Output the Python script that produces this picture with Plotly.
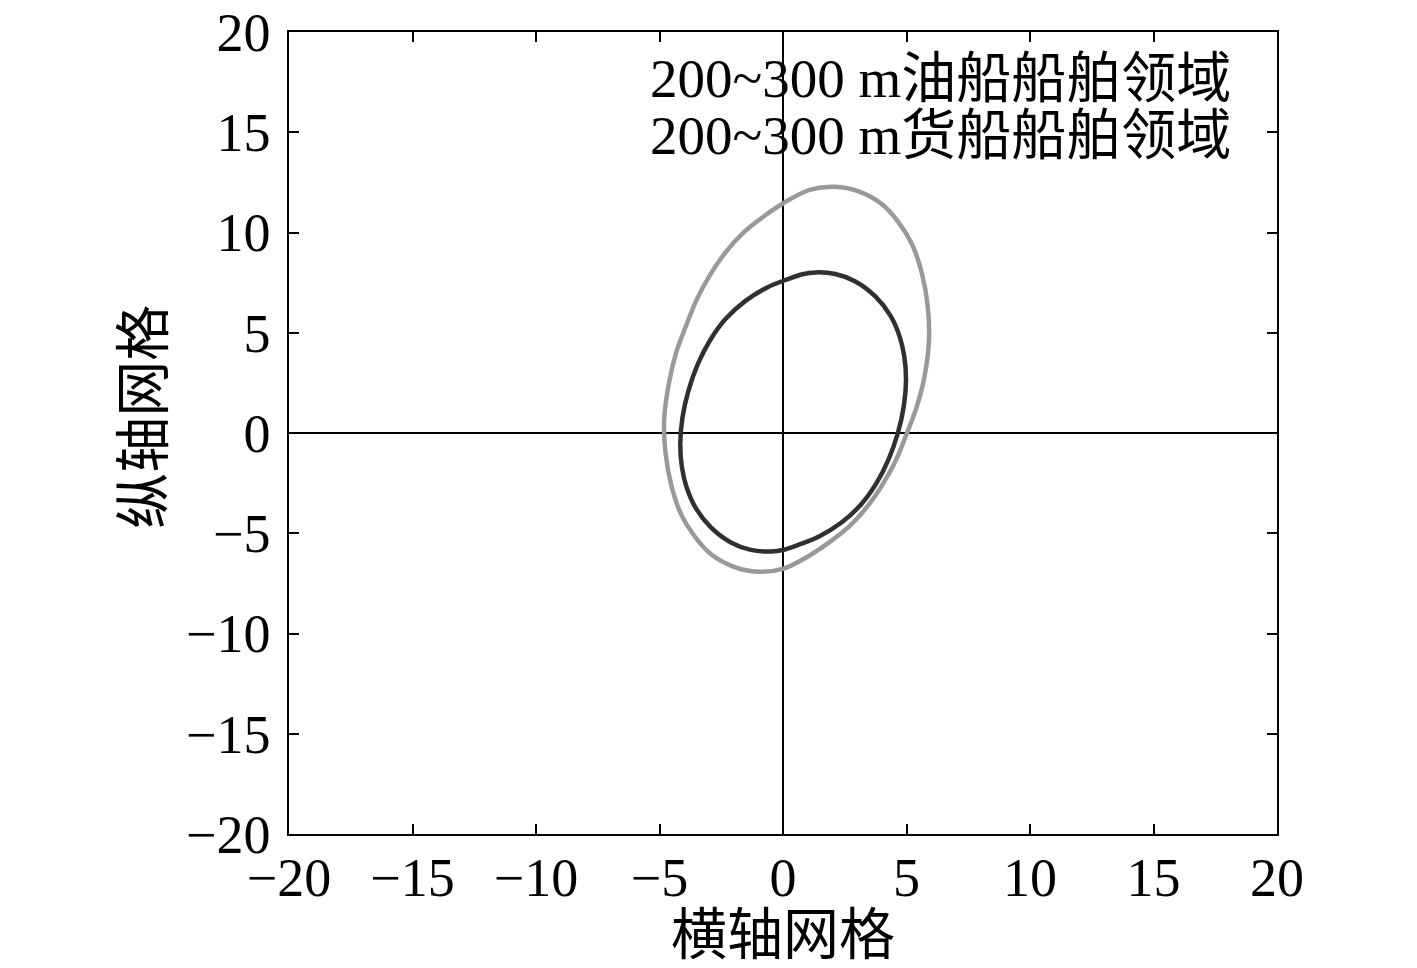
import plotly.graph_objects as go

# 200~300 m 油船船舶领域 (outer, gray), clockwise from the top
tanker_x = [2.11, 3.06, 4.01, 4.68, 5.22, 5.62, 5.86, 5.91, 5.73, 5.42, 5.02, 4.58, 4.07, 3.42, 2.68,
            1.83, 0.78, 0.00, -1.01, -1.96, -2.91, -3.58, -4.12, -4.52, -4.76, -4.81, -4.61, -4.32,
            -3.92, -3.48, -2.97, -2.32, -1.58, -0.73, 0.32, 1.11, 2.11]
tanker_y = [12.28, 12.05, 11.41, 10.51, 9.43, 7.98, 6.31, 4.65, 2.82, 1.33, 0.00, -1.33, -2.49, -3.66, -4.66,
            -5.49, -6.32, -6.78, -6.92, -6.69, -6.05, -5.15, -4.07, -2.62, -0.95, 0.71, 2.54, 4.03,
            5.36, 6.69, 7.85, 9.02, 10.02, 10.85, 11.68, 12.14, 12.28]

# 200~300 m 货船船舶领域 (inner, dark)
cargo_x = [1.31, 2.12, 2.93, 3.74, 4.35, 4.72, 4.91, 4.98, 4.89, 4.65, 4.27, 3.79, 3.15, 2.34, 1.46,
           0.64, 0.04, -0.49, -1.30, -2.11, -2.92, -3.53, -3.90, -4.09, -4.16, -4.07, -3.83, -3.45,
           -2.97, -2.33, -1.52, -0.64, 0.19, 0.79, 1.31]
cargo_y = [8.01, 7.93, 7.56, 6.81, 5.85, 4.82, 3.82, 2.66, 1.33, 0.00, -1.33, -2.49, -3.58, -4.49, -5.16,
           -5.57, -5.82, -5.91, -5.83, -5.46, -4.71, -3.75, -2.72, -1.72, -0.56, 0.77, 2.10, 3.43,
           4.59, 5.68, 6.59, 7.26, 7.67, 7.92, 8.01]

legend_labels = ["200~300 m油船船舶领域", "200~300 m货船船舶领域"]
tick_vals = [-20, -15, -10, -5, 0, 5, 10, 15, 20]

FONT = "Liberation Serif, Times New Roman, Noto Sans CJK SC, serif"

fig = go.Figure()
fig.add_trace(go.Scatter(
    x=tanker_x, y=tanker_y, mode="lines", name=legend_labels[0],
    line=dict(color="#999999", width=4.5, shape="spline", smoothing=1),
))
fig.add_trace(go.Scatter(
    x=cargo_x, y=cargo_y, mode="lines", name=legend_labels[1],
    line=dict(color="#303030", width=4.5, shape="spline", smoothing=1),
))

axis_common = dict(
    range=[-20, 20], tickvals=tick_vals, showgrid=False, automargin=False,
    ticklabeloverflow="allow",
    zeroline=True, zerolinecolor="black", zerolinewidth=1.5,
    showline=True, linecolor="black", linewidth=1.5, mirror="ticks",
    ticks="inside", ticklen=10, tickwidth=1.5, tickcolor="black",
    tickfont=dict(family=FONT, size=54, color="black"),
)
fig.update_xaxes(**axis_common, ticklabelstandoff=-5)
fig.update_yaxes(**axis_common, ticklabelstandoff=6)

annotations = [
    dict(text=legend_labels[0], x=0.955, y=0.942, xanchor="right", yanchor="middle", size=55),
    dict(text=legend_labels[1], x=0.955, y=0.871, xanchor="right", yanchor="middle", size=55),
    dict(text="横轴网格", x=0.5, y=-0.126, xanchor="center", yanchor="middle", size=56),
    dict(text="纵轴网格", x=-0.147, y=0.52, xanchor="center", yanchor="middle", size=56, textangle=-90),
]
for a in annotations:
    size = a.pop("size")
    fig.add_annotation(xref="paper", yref="paper", showarrow=False,
                       font=dict(family=FONT, size=size, color="black"), **a)

# the page body adds an 8 px offset, so margins are shifted to keep the frame in place
fig.update_layout(
    width=1417, height=968,
    showlegend=False,
    plot_bgcolor="white", paper_bgcolor="white",
    margin=dict(l=281, r=148, t=24, b=142),
)

fig.write_html("out.html")
